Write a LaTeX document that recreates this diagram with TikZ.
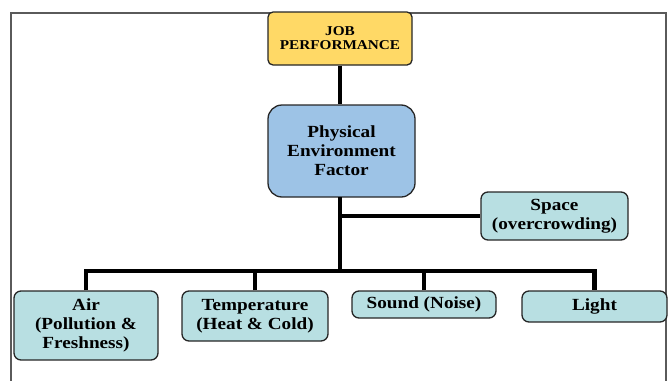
\documentclass[tikz,border=0pt]{standalone}
\usepackage{fontspec}
\setmainfont[FakeStretch=1.13]{Liberation Serif}
\definecolor{jobfill}{RGB}{255,217,102}
\definecolor{physfill}{RGB}{157,195,230}
\definecolor{boxfill}{RGB}{184,223,226}
\definecolor{framecol}{RGB}{90,90,90}
\begin{document}
\begin{tikzpicture}[x=1pt,y=-1pt,
  box/.style={draw=black!85, line width=1.3pt, fill=boxfill, align=center, inner sep=0pt,
    rounded corners=7pt, font=\bfseries\fontsize{17}{19}\selectfont},
  conn/.style={line width=4.5pt, black},
  frameline/.style={draw=framecol, line width=1.5pt}]
\useasboundingbox (0,0) rectangle (668,380);
\draw[frameline] (11,390) -- (11,13) -- (666,13) -- (666,390);
\node[box, fill=jobfill, rounded corners=5pt, minimum width=144pt, minimum height=53pt,
  font=\bfseries\fontsize{13.5}{14}\selectfont] (job) at (340,38.5) {JOB\\PERFORMANCE};
\node[box, fill=physfill, rounded corners=14pt, minimum width=147pt, minimum height=92pt] (phys) at (341.5,151) {Physical\\Environment\\Factor};
\node[box, minimum width=147pt, minimum height=48pt] (space) at (554.5,216) {Space\\(overcrowding)};
\node[box, minimum width=144pt, minimum height=69pt] (air) at (86,325.5) {Air\\(Pollution \&\\Freshness)};
\node[box, minimum width=146pt, minimum height=50pt] (temp) at (255,316) {Temperature\\(Heat \& Cold)};
\node[box, minimum width=144pt, minimum height=27pt] (sound) at (424,304.5) {Sound (Noise)};
\node[box, minimum width=145pt, minimum height=31pt] (light) at (594.5,306.5) {Light};
\coordinate (bus) at (340,271);
\coordinate (physbot) at (340,197);
\draw[conn] (job.south) -- (job.south |- phys.north);
\draw[conn] (physbot) -- (bus);
\draw[conn] (physbot |- space.west) -- (space.west);
\draw[conn] (air.north) -- (air.north |- bus) -- (light.north |- bus) -- (light.north);
\draw[conn] (temp.north) -- (temp.north |- bus);
\draw[conn] (sound.north) -- (sound.north |- bus);
\end{tikzpicture}
\end{document}
